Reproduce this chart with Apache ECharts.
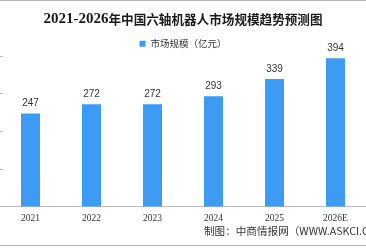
<!DOCTYPE html>
<html>
<head>
<meta charset="utf-8">
<style>
  html, body { margin: 0; padding: 0; background: #fff; }
  #chart { width: 366px; height: 248px; }
</style>
<script src="https://cdn.jsdelivr.net/npm/echarts@6/dist/echarts.min.js"></script>
</head>
<body>
<div id="chart"></div>
<script>
const years = ['2021', '2022', '2023', '2024', '2025', '2026E']
const marketSize = [247, 272, 272, 293, 339, 394]
const seriesName = '市场规模（亿元）'
const titleYears = '2021-2026'
const titleRest = '年中国六轴机器人市场规模趋势预测图'
const sourceText = '制图：中商情报网（WWW.ASKCI.COM）'

const chart = echarts.init(document.getElementById('chart'), null, { renderer: 'canvas' })

chart.setOption({
  animation: false,
  backgroundColor: '#fff',
  title: {
    // years and chinese part drawn with different fonts
    text: '{d|' + titleYears + '}{c|' + titleRest + '}',
    left: 'center',
    top: 7,
    textStyle: {
      rich: {
        d: {
          fontSize: 15,
          fontWeight: 'bold',
          color: '#1a1a1a',
          fontFamily: '"Liberation Serif", serif'
        },
        c: {
          fontSize: 12.6,
          fontWeight: 'bold',
          color: '#1a1a1a',
          fontFamily: '"Noto Sans CJK SC", sans-serif'
        }
      }
    }
  },
  legend: {
    data: [seriesName],
    top: 34,
    left: 'center',
    icon: 'rect',
    itemWidth: 6,
    itemHeight: 6,
    itemGap: 4,
    textStyle: {
      fontSize: 9.5,
      color: '#333',
      fontFamily: '"Noto Sans CJK SC", sans-serif'
    }
  },
  grid: {
    left: -2,
    right: -5,
    top: 56,
    bottom: 41.5,
    containLabel: false
  },
  xAxis: {
    type: 'category',
    data: years,
    axisLine: { lineStyle: { color: '#bdbdbd' } },
    axisTick: { length: 3, lineStyle: { color: '#bdbdbd' } },
    axisLabel: {
      margin: 7,
      fontSize: 9.5,
      color: '#333',
      fontFamily: '"Liberation Serif", serif'
    }
  },
  yAxis: {
    type: 'value',
    min: 0,
    max: 400,
    interval: 100,
    axisLine: { show: false },
    axisTick: { show: true, inside: true, length: 3, lineStyle: { color: '#bdbdbd' } },
    axisLabel: { show: false },
    splitLine: { show: false }
  },
  series: [
    {
      name: seriesName,
      type: 'bar',
      data: marketSize,
      barWidth: 19,
      itemStyle: { color: '#3d9bf3' },
      label: {
        show: true,
        position: 'top',
        distance: 5,
        fontSize: 10,
        color: '#333',
        fontFamily: '"Liberation Sans", Arial, sans-serif'
      }
    }
  ],
  graphic: [
    // frame lines top and bottom
    {
      type: 'line',
      shape: { x1: 0, y1: 0.5, x2: 366, y2: 0.5 },
      style: { stroke: '#b5b5b5', lineWidth: 1 }
    },
    {
      type: 'line',
      shape: { x1: 0, y1: 245.5, x2: 366, y2: 245.5 },
      style: { stroke: '#b5b5b5', lineWidth: 1 }
    },
    {
      type: 'text',
      left: 204,
      top: 226,
      style: {
        text: sourceText,
        fontSize: 10.6,
        fill: '#333',
        fontFamily: '"Noto Sans CJK SC", sans-serif'
      }
    }
  ]
})
</script>
</body>
</html>
